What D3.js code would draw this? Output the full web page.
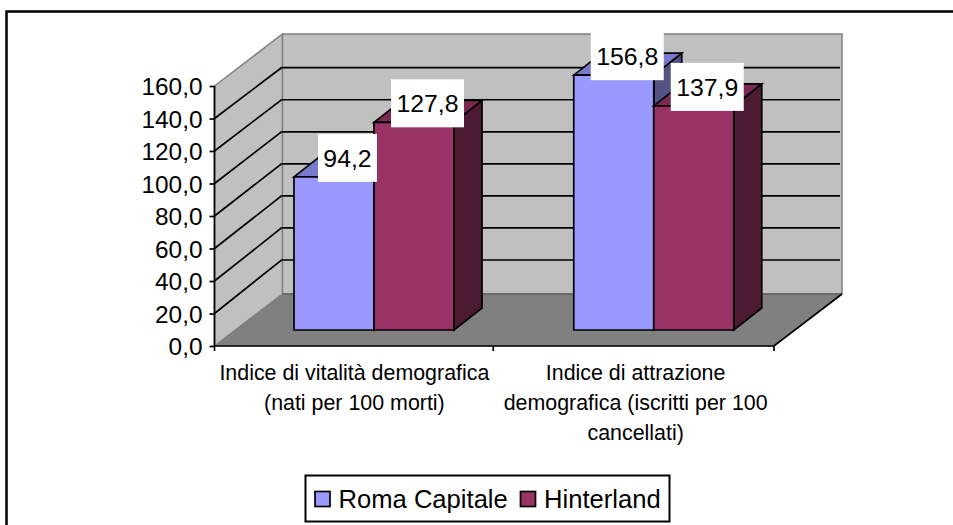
<!DOCTYPE html>
<html><head><meta charset="utf-8">
<script src="https://cdn.jsdelivr.net/npm/d3@7"></script>
<style>html,body{margin:0;padding:0;background:#fff}svg{display:block}text{font-family:"Liberation Sans",Arial,sans-serif;fill:#000}</style>
</head><body><svg id="c" width="953" height="525"></svg>
<script>
const categories = [["Indice di vitalità demografica","(nati per 100 morti)"],["Indice di attrazione","demografica (iscritti per 100","cancellati)"]];
const seriesNames = ["Roma Capitale","Hinterland"];
const romaCapitale = [94.2,156.8];
const hinterland = [127.8,137.9];
const yTicks = [0,20,40,60,80,100,120,140,160];
const frontColors = ["#9999ff","#993366"];
const topColors = ["#7a7acc","#7a2952"];
const sideColors = ["#525285","#4d1a33"];

const svg = d3.select("#c");
const fmt = v => v.toFixed(1).replace(".",",");
const X0=214.5,X1=774,Y0=346,Y160=86,DX=68,DY=-52,BDX=28,BDY=-22;
const y = d3.scaleLinear().domain([0,160]).range([Y0,Y160]);
const yBack = d3.scaleLinear().domain([20,140]).range([260,67.7]);
const x = d3.scaleBand().domain([0,1]).range([X0,X1]);
const line = d3.line();
const poly=(pts,fill,stroke,sw)=>svg.append("path").attr("d",line(pts)+"Z").attr("fill",fill).attr("stroke",stroke||"none").attr("stroke-width",sw||0).attr("stroke-linejoin","miter");

svg.append("path").attr("d","M6.5,525V11.5H953").attr("fill","none").attr("stroke","#000").attr("stroke-width",2.5);

// walls and floor
poly([[X0,Y0],[X0+DX,Y0+DY],[X0+DX,Y160+DY],[X0,Y160]],"#c0c0c0","#808080",1.5);
poly([[X0+DX,Y0+DY],[X1+DX,Y0+DY],[X1+DX,Y160+DY],[X0+DX,Y160+DY]],"#c0c0c0","#808080",1.5);
poly([[X0,Y0],[X1,Y0],[X1+DX,Y0+DY],[X0+DX,Y0+DY]],"#808080","#808080",1);
svg.append("line").attr("x1",X0+DX).attr("x2",X1+DX).attr("y1",Y0+DY).attr("y2",Y0+DY).attr("stroke","#606060").attr("stroke-width",1.5);

// gridlines
yTicks.slice(1,-1).forEach(t=>{
  svg.append("path").attr("fill","none").attr("stroke","#000").attr("stroke-width",1.7)
    .attr("d",line([[X0,y(t)],[X0+DX-1,yBack(t)],[X1+DX-2,yBack(t)]]));
});

// floor front edge + right diagonal
svg.append("path").attr("fill","none").attr("stroke","#000").attr("stroke-width",1.7)
  .attr("d",line([[X0,Y0],[X1,Y0],[X1+DX,Y0+DY]]));

// axes
const yAxis = d3.axisLeft(y).tickValues(yTicks).tickFormat(fmt).tickSize(5).tickPadding(7);
const gy = svg.append("g").attr("transform",`translate(${X0},0)`).call(yAxis);
gy.selectAll("path").attr("d",`M0,${Y160}V${Y0}`).attr("stroke","#000").attr("stroke-width",1.7);
gy.selectAll("line").attr("stroke","#000").attr("stroke-width",1.7);
gy.selectAll("text").attr("font-size",24.4).attr("font-family","Liberation Sans").attr("dy","0.36em");

[X0,(X0+X1)/2-1,X1].forEach(v=>svg.append("line").attr("x1",v).attr("x2",v).attr("y1",Y0).attr("y2",Y0+5).attr("stroke","#000").attr("stroke-width",1.7));

// bars
const barW=80;
const labels=[];
[romaCapitale,hinterland].forEach((vals,s)=>{
  vals.forEach((v,i)=>{
    const left = x(i)+79.5+s*barW, right=left+barW;
    const base = Y0-16, top = base-(Y0-y(v));
    labels.push({left,right,top,v,i,s});
  });
});
const order=[0,2,1,3].map(k=>labels[k]);
order.forEach(b=>{
  const base=Y0-16;
  poly([[b.right,b.top],[b.right+BDX,b.top+BDY],[b.right+BDX,base+BDY],[b.right,base]],sideColors[b.s],"#000",1.7);
  poly([[b.left,b.top],[b.left+BDX,b.top+BDY],[b.right+BDX,b.top+BDY],[b.right,b.top]],topColors[b.s],"#000",1.7);
  poly([[b.left,b.top],[b.right,b.top],[b.right,base],[b.left,base]],frontColors[b.s],"#000",1.7);
});

// data labels
order.forEach(b=>{
  const cx=(b.left+b.right)/2+13.5, cy=b.top-19, t=fmt(b.v);
  const w=t.length===4?59:73, h=48;
  svg.append("rect").attr("x",cx-w/2).attr("y",cy-h/2).attr("width",w).attr("height",h).attr("fill","#fff");
  svg.append("text").attr("x",cx).attr("y",cy).attr("dy","0.36em").attr("text-anchor","middle").attr("font-size",24.8).text(t);
});

// category labels
categories.forEach((ls,i)=>{
  const cx=x(i)+x.bandwidth()/2+(i?1.5:0);
  ls.forEach((l,k)=>svg.append("text").attr("x",cx).attr("y",380+k*30).attr("text-anchor","middle").attr("font-size",21.4).text(l));
});

// legend
svg.append("rect").attr("x",305.5).attr("y",475.5).attr("width",364).attr("height",46).attr("fill","#fff").attr("stroke","#000").attr("stroke-width",2);
const lx=[315,520.5];
seriesNames.forEach((n,i)=>{
  svg.append("rect").attr("x",lx[i]).attr("y",491.5).attr("width",15).attr("height",15).attr("fill",frontColors[i]).attr("stroke","#000").attr("stroke-width",1.7);
  svg.append("text").attr("x",lx[i]+23.5).attr("y",499).attr("dy","0.36em").attr("font-size",25.6).text(n);
});
</script></body></html>
